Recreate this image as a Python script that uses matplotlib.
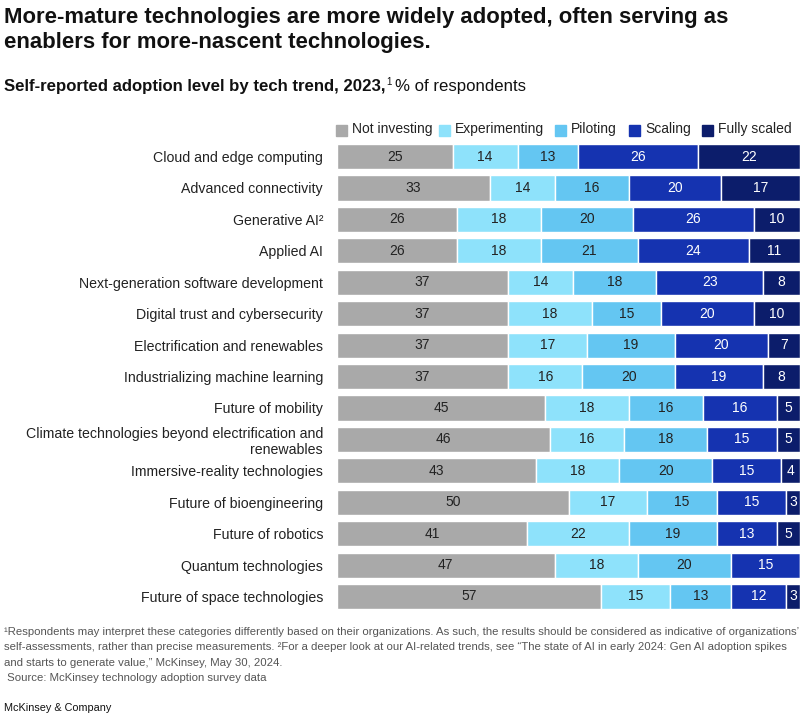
import matplotlib.pyplot as plt
from matplotlib.patches import Rectangle

plt.rcParams['font.family'] = ['Liberation Sans', 'DejaVu Sans']

trends = [
    'Cloud and edge computing',
    'Advanced connectivity',
    'Generative AI²',
    'Applied AI',
    'Next-generation software development',
    'Digital trust and cybersecurity',
    'Electrification and renewables',
    'Industrializing machine learning',
    'Future of mobility',
    'Climate technologies beyond electrification and\nrenewables',
    'Immersive-reality technologies',
    'Future of bioengineering',
    'Future of robotics',
    'Quantum technologies',
    'Future of space technologies',
]
levels = ['Not investing', 'Experimenting', 'Piloting', 'Scaling', 'Fully scaled']

not_investing = [25, 33, 26, 26, 37, 37, 37, 37, 45, 46, 43, 50, 41, 47, 57]
experimenting = [14, 14, 18, 18, 14, 18, 17, 16, 18, 16, 18, 17, 22, 18, 15]
piloting = [13, 16, 20, 21, 18, 15, 19, 20, 16, 18, 20, 15, 19, 20, 13]
scaling = [26, 20, 26, 24, 23, 20, 20, 19, 16, 15, 15, 15, 13, 15, 12]
fully_scaled = [22, 17, 10, 11, 8, 10, 7, 8, 5, 5, 4, 3, 5, 0.4, 3]

series = [not_investing, experimenting, piloting, scaling, fully_scaled]
colors = ['#a9a9a9', '#8ee2fb', '#64c6f2', '#1533b0', '#0c1d6b']
txt_colors = ['#222222', '#222222', '#222222', 'white', 'white']

W, H = 803, 728
fig = plt.figure(figsize=(W / 100, H / 100), dpi=100)

# bar area: x 337..800 px, rows centred from y=156.5 to 596.5 px
step = 440 / 14
top = 156.5 - step / 2
height = step * 15
ax = fig.add_axes([337 / W, 1 - (top + height) / H, 463 / W, height / H])

y = list(range(len(trends)))
left = [0] * len(trends)
for vals, c, tc in zip(series, colors, txt_colors):
    ax.barh(y, vals, left=left, height=0.8, color=c, edgecolor='white', linewidth=1)
    for i, v in enumerate(vals):
        if v >= 1:
            ax.text(left[i] + v / 2, i, f'{v:g}', ha='center', va='center',
                    fontsize=10, color=tc)
    left = [l + v for l, v in zip(left, vals)]

ax.set_xlim(0, 100)
ax.set_ylim(len(trends) - 0.5, -0.5)
ax.set_yticks(y)
ax.set_yticklabels(trends, fontsize=10.2, color='#222222', multialignment='right')
ax.tick_params(axis='y', length=0, pad=10)
ax.set_xticks([])
for s in ax.spines.values():
    s.set_visible(False)

# title / subtitle
fig.text(4 / W, 1 - 7 / H, 'More-mature technologies are more widely adopted, often serving as\nenablers for more-nascent technologies.',
         ha='left', va='top', fontsize=15.9, fontweight='bold', color='#111111', linespacing=1.27)
t1 = fig.text(4 / W, 1 - 86 / H, 'Self-reported adoption level by tech trend, 2023,',
              ha='left', va='center', fontsize=12.1, fontweight='bold', color='#111111')
fig.canvas.draw()
bb = t1.get_window_extent()
fig.text(bb.x1 / W + 1 / W, 1 - 82 / H, '1', ha='left', va='center', fontsize=7, color='#111111')
fig.text(bb.x1 / W + 10 / W, 1 - 86 / H, '% of respondents', ha='left', va='center',
         fontsize=12.1, color='#111111')

# legend
leg_x = [336, 439, 555, 629, 702]
for lx, lab, c in zip(leg_x, levels, colors):
    fig.patches.append(Rectangle((lx / W, 1 - 135.5 / H), 11.5 / W, 11 / H, color=c,
                                 transform=fig.transFigure, figure=fig))
    fig.text((lx + 16) / W, 1 - 129.5 / H, lab, ha='left', va='center', fontsize=10, color='#222222')

# footnotes
notes = ('¹Respondents may interpret these categories differently based on their organizations. As such, the results should be considered as indicative of organizations’\n'
         'self-assessments, rather than precise measurements. ²For a deeper look at our AI-related trends, see “The state of AI in early 2024: Gen AI adoption spikes\n'
         'and starts to generate value,” McKinsey, May 30, 2024.\n'
         ' Source: McKinsey technology adoption survey data')
fig.text(4 / W, 1 - 627 / H, notes, ha='left', va='top', fontsize=8.2, color='#555555', linespacing=1.68)
fig.text(4 / W, 1 - 708 / H, 'McKinsey & Company', ha='left', va='center', fontsize=7.8, color='#111111')

fig.savefig('out.png', dpi=100)
